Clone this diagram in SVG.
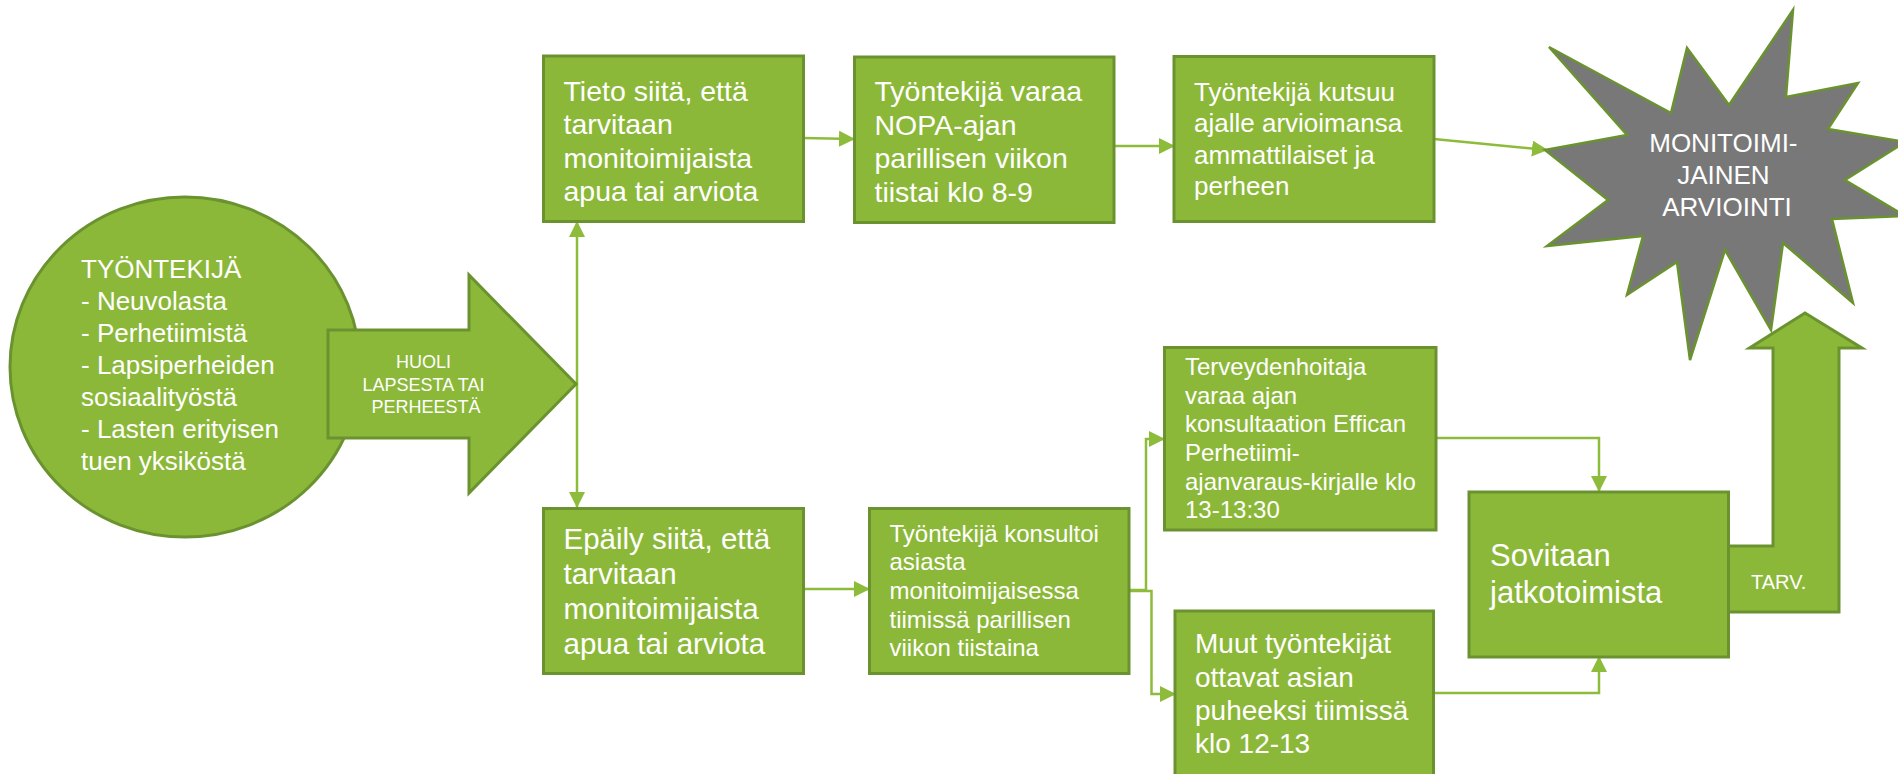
<svg xmlns="http://www.w3.org/2000/svg" width="1898" height="774" viewBox="0 0 1898 774">
<style>
.box{fill:#8cb83a;stroke:#6a9330;stroke-width:3}
.t{fill:#ffffff;font-family:"Liberation Sans",Arial,sans-serif}
.c{fill:none;stroke:#8dbc3b;stroke-width:2.5}
</style>
<defs>
<marker id="ah" viewBox="0 0 16 16" refX="15" refY="8" markerWidth="16" markerHeight="16" markerUnits="userSpaceOnUse" orient="auto-start-reverse">
<path d="M0,0 L16,8 L0,16 z" fill="#8dbc3b"/>
</marker>
</defs>
<rect width="1898" height="774" fill="#ffffff"/>

<g id="tarv">
<polygon class="box" points="1715,546 1773,546 1773,348 1749.5,348 1805,313 1862,348 1839,348 1839,612 1715,612"/>
<text class="t" x="1751" y="589" font-size="20">TARV.</text>
</g>

<g id="connectors">
<line class="c" x1="803" y1="138" x2="854" y2="139" marker-end="url(#ah)"/>
<line class="c" x1="1114" y1="146" x2="1174" y2="146" marker-end="url(#ah)"/>
<line class="c" x1="1434" y1="139" x2="1547" y2="150" marker-end="url(#ah)"/>
<line class="c" x1="577" y1="222" x2="577" y2="507" marker-start="url(#ah)" marker-end="url(#ah)"/>
<line class="c" x1="803" y1="589" x2="869" y2="589" marker-end="url(#ah)"/>
<polyline class="c" points="1129,590 1146,590 1146,439 1164,439" marker-end="url(#ah)"/>
<polyline class="c" points="1129,591 1151.5,591 1151.5,694 1175,694" marker-end="url(#ah)"/>
<polyline class="c" points="1436,438 1599,438 1599,491" marker-end="url(#ah)"/>
<polyline class="c" points="1434,693 1599,693 1599,657" marker-end="url(#ah)"/>
</g>

<g id="tyontekija">
<ellipse class="box" cx="185" cy="367" rx="175" ry="170"/>
<text class="t" font-size="26">
<tspan x="81" y="278">TYÖNTEKIJÄ</tspan>
<tspan x="81" y="310">- Neuvolasta</tspan>
<tspan x="81" y="342">- Perhetiimistä</tspan>
<tspan x="81" y="374">- Lapsiperheiden</tspan>
<tspan x="81" y="406">sosiaalityöstä</tspan>
<tspan x="81" y="438">- Lasten erityisen</tspan>
<tspan x="81" y="470">tuen yksiköstä</tspan>
</text>
</g>

<g id="huoli">
<polygon class="box" points="328,330 469,330 469,275 576,384 469,493 469,438 328,438"/>
<text class="t" font-size="18" text-anchor="middle">
<tspan x="426" y="368">HUOLI</tspan>
<tspan x="426" y="391">LAPSESTA TAI</tspan>
<tspan x="426" y="413">PERHEESTÄ</tspan>
</text>
</g>

<g id="tieto">
<rect class="box" x="543.5" y="56" width="260" height="165.5"/>
<text class="t" font-size="28.5">
<tspan x="563.5" y="100.5">Tieto siitä, että</tspan>
<tspan x="563.5" y="134">tarvitaan</tspan>
<tspan x="563.5" y="167.5">monitoimijaista</tspan>
<tspan x="563.5" y="201">apua tai arviota</tspan>
</text>
</g>

<g id="nopa">
<rect class="box" x="854.5" y="57" width="259.5" height="165.5"/>
<text class="t" font-size="28.5">
<tspan x="874.5" y="101">Työntekijä varaa</tspan>
<tspan x="874.5" y="134.5">NOPA-ajan</tspan>
<tspan x="874.5" y="168">parillisen viikon</tspan>
<tspan x="874.5" y="201.5">tiistai klo 8-9</tspan>
</text>
</g>

<g id="kutsuu">
<rect class="box" x="1174" y="56.5" width="260" height="165"/>
<text class="t" font-size="26">
<tspan x="1194" y="101">Työntekijä kutsuu</tspan>
<tspan x="1194" y="132.3">ajalle arvioimansa</tspan>
<tspan x="1194" y="163.6">ammattilaiset ja</tspan>
<tspan x="1194" y="195">perheen</tspan>
</text>
</g>

<g id="arviointi">
<polygon fill="#787878" stroke="#6a9330" stroke-width="2.5" stroke-linejoin="miter" points="1549,47 1671,113 1687,48 1729,105 1793,10 1786,97 1858,83 1828,129 1905,142 1845,180 1905,216 1832,219 1853,303 1783,243 1771,330 1725,250 1690,360 1677,262 1627,295 1643,236 1547,246 1608,200 1545,150 1627,135"/>
<text class="t" font-size="26" text-anchor="middle">
<tspan x="1727" y="152">MONITOIMI-</tspan>
<tspan x="1727" y="184">JAINEN</tspan>
<tspan x="1727" y="216">ARVIOINTI</tspan>
</text>
</g>

<g id="epaily">
<rect class="box" x="543.5" y="508.5" width="260" height="165"/>
<text class="t" font-size="29.5">
<tspan x="563.5" y="548.5">Epäily siitä, että</tspan>
<tspan x="563.5" y="583.5">tarvitaan</tspan>
<tspan x="563.5" y="618.5">monitoimijaista</tspan>
<tspan x="563.5" y="653.5">apua tai arviota</tspan>
</text>
</g>

<g id="konsultoi">
<rect class="box" x="869.5" y="508.5" width="259.5" height="165"/>
<text class="t" font-size="24">
<tspan x="889.5" y="541.7">Työntekijä konsultoi</tspan>
<tspan x="889.5" y="570.4">asiasta</tspan>
<tspan x="889.5" y="599">monitoimijaisessa</tspan>
<tspan x="889.5" y="627.7">tiimissä parillisen</tspan>
<tspan x="889.5" y="656.4">viikon tiistaina</tspan>
</text>
</g>

<g id="terveydenhoitaja">
<rect class="box" x="1164.5" y="347.5" width="271.5" height="182.5"/>
<text class="t" font-size="24">
<tspan x="1185" y="375">Terveydenhoitaja</tspan>
<tspan x="1185" y="403.7">varaa ajan</tspan>
<tspan x="1185" y="432.4">konsultaation Effican</tspan>
<tspan x="1185" y="461">Perhetiimi-</tspan>
<tspan x="1185" y="489.7">ajanvaraus-kirjalle klo</tspan>
<tspan x="1185" y="518.4">13-13:30</tspan>
</text>
</g>

<g id="muut">
<rect class="box" x="1175" y="611" width="258.5" height="170"/>
<text class="t" font-size="28">
<tspan x="1195" y="653.3">Muut työntekijät</tspan>
<tspan x="1195" y="686.7">ottavat asian</tspan>
<tspan x="1195" y="720">puheeksi tiimissä</tspan>
<tspan x="1195" y="753.3">klo 12-13</tspan>
</text>
</g>

<g id="sovitaan">
<rect class="box" x="1469" y="492" width="259.5" height="165"/>
<text class="t" font-size="31">
<tspan x="1490" y="566">Sovitaan</tspan>
<tspan x="1490" y="603.3">jatkotoimista</tspan>
</text>
</g>
</svg>
